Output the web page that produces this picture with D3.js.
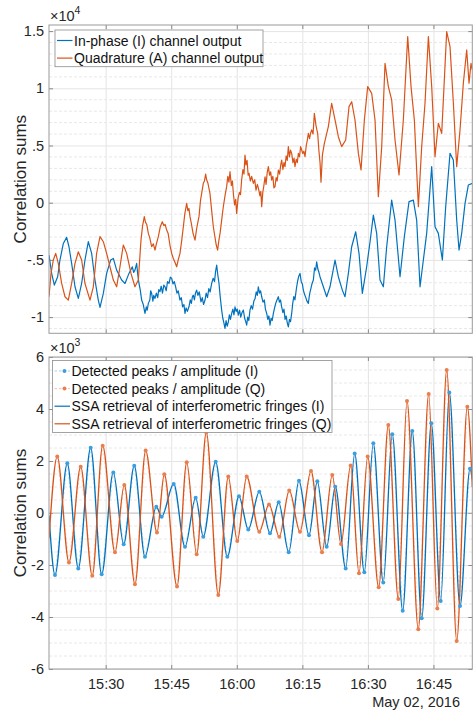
<!DOCTYPE html>
<html>
<head>
<meta charset="utf-8">
<script src="https://cdn.jsdelivr.net/npm/d3@7"></script>
<style>
  body { margin: 0; background: #fff; }
  svg { display: block; font-family: Arial, "Liberation Sans", sans-serif; }
</style>
</head>
<body>
<div id="chart"></div>
<script>
// times are minutes after 15:00, May 02 2016

// top panel: raw correlation sums
const tIn = [17.03,17.64,18.25,19.01,19.54,20.31,21.07,21.60,22.21,22.98,
  23.74,24.50,25.26,26.03,26.79,27.55,28.31,28.70,29.46,30.22,
  31.14,31.75,32.51,33.65,34.42,35.33,
  36.10,36.40,36.70,37.09,37.35,37.62,37.90,38.23,38.60,38.99,
  39.30,39.50,39.76,40.10,40.30,40.52,40.80,41.00,41.28,41.60,
  41.90,42.15,42.43,42.70,43.00,43.30,43.57,43.85,44.15,44.49,
  44.80,45.10,45.40,45.70,46.01,46.30,46.60,47.00,47.30,47.60,
  47.90,48.15,48.40,48.70,49.06,49.35,49.60,49.85,50.05,50.30,
  50.55,50.82,51.10,51.40,51.81,52.10,52.40,52.73,53.00,53.30,
  53.60,53.90,54.25,54.60,54.90,55.15,55.40,55.65,55.93,56.20,
  56.54,56.80,57.05,57.30,57.55,57.80,58.07,58.30,58.55,58.83,
  59.10,59.35,59.59,59.85,60.10,60.35,60.65,60.90,61.20,61.50,
  61.80,62.05,62.26,62.50,62.75,63.02,63.30,63.60,63.90,64.17,
  64.45,64.70,64.93,65.20,65.45,65.70,66.00,66.30,66.55,66.84,
  67.10,67.35,67.60,67.85,68.10,68.37,68.65,68.90,69.20,69.51,
  69.75,70.00,70.27,70.55,70.80,71.05,71.30,71.55,71.80,72.05,
  72.30,72.56,72.80,73.05,73.30,73.70,73.95,74.20,74.47,74.75,
  75.00,75.23,75.50,75.80,76.05,76.37,76.65,76.90,77.20,77.52,
  77.80,78.05,78.28,78.55,78.80,79.04,
  80.57,81.33,82.48,83.24,84.15,84.76,85.53,86.29,87.21,87.97,
  88.73,89.72,90.49,91.25,92.01,92.77,93.54,94.30,95.44,96.21,
  97.35,98.34,99.41,100.40,101.16,101.93,102.69,103.45,104.60,105.36,
  106.12,107.04,107.80,108.79,109.55,110.32,110.85,111.46,112.23,112.99,
  113.89];
const inPhase = [-4580,-6180,-7200,-6470,-5010,-3560,-3030,-3850,-5310,-7350,
  -8370,-7060,-5010,-3410,-4430,-6760,-8510,-9150,-7930,-6180,
  -5010,-4870,-5890,-6760,-7060,-6180,
  -5600,-6100,-5890,-5310,-6300,-7060,-7600,-8510,-8900,-9680,
  -9100,-9400,-8800,-8500,-7700,-7930,-8600,-8100,-8370,-7900,
  -8300,-7600,-7780,-7300,-7900,-7200,-7350,-7700,-6900,-7060,
  -6500,-6620,-7100,-6900,-7350,-7900,-7700,-8510,-8300,-9100,
  -8900,-9680,-9200,-9500,-9100,-8500,-8800,-8200,-8080,-8500,
  -7900,-7640,-8100,-7800,-8660,-8300,-8900,-8510,-7900,-8300,
  -7500,-7800,-7060,-6600,-6900,-6000,-5450,-6300,-7060,-8200,
  -9390,-10100,-10500,-10990,-10300,-10800,-10410,-9800,-10200,-9680,
  -9300,-9800,-9100,-9500,-9300,-9830,-9400,-10000,-9600,-9390,
  -10100,-10400,-10700,-10000,-10300,-9390,-9000,-9300,-8600,-8400,
  -7800,-8100,-7350,-7900,-7700,-8220,-8700,-8500,-9300,-9680,
  -10200,-9900,-10700,-10100,-10300,-9680,-9200,-8800,-8500,-8220,
  -8700,-8500,-9100,-9600,-9300,-10200,-9900,-10500,-10850,-10200,
  -10400,-9680,-8800,-8200,-8500,-7350,-6800,-6400,-6180,-6900,
  -7100,-7640,-8000,-8300,-8600,-8800,-8000,-7600,-7100,-6760,
  -5700,-5900,-5160,-5800,-6100,-6470,
  -8220,-7350,-5010,-6470,-7640,-8220,-6180,-3850,-2540,-4430,
  -7930,-5600,-3410,-1080,-2680,-6760,-7350,-3850,230,-1520,
  -6470,-2970,90,230,-1520,-7350,-5010,-2680,3150,-2100,
  -2680,-5010,-350,4310,3730,-1520,-4140,-2680,-60,1550,
  1690];

const tQuad = [17.03,17.49,18.02,18.56,19.16,19.93,20.69,21.45,22.21,22.98,
  23.74,24.50,25.26,26.41,27.17,27.93,28.70,29.46,30.22,30.98,
  31.75,32.51,33.27,34.03,34.80,35.79,36.70,37.47,
  38.08,38.45,38.84,39.10,39.40,39.76,40.10,40.52,40.90,41.28,
  41.60,42.05,42.50,42.96,43.30,43.60,43.95,44.30,44.70,45.10,
  45.50,45.85,46.24,46.60,47.00,47.40,47.77,48.10,48.53,48.80,
  49.05,49.29,49.60,50.00,50.44,50.80,51.10,51.35,51.70,52.00,
  52.34,52.60,52.87,53.10,53.40,53.86,54.20,54.63,55.00,55.30,
  55.62,55.90,56.20,56.54,56.90,57.30,
  57.68,57.95,58.20,58.45,58.75,59.00,59.21,59.50,59.75,59.97,
  60.30,60.60,60.85,61.11,61.40,61.65,61.88,62.10,62.35,62.60,
  62.80,63.10,63.40,63.79,64.10,64.40,64.70,64.93,65.30,65.50,
  65.70,65.95,66.20,66.46,66.70,66.95,67.22,67.50,67.75,67.98,
  68.25,68.50,68.75,69.00,69.25,69.51,69.80,70.05,70.27,70.55,
  70.80,71.03,71.30,71.55,71.80,72.05,72.30,72.56,72.85,73.10,
  73.32,73.60,73.85,74.09,74.35,74.60,74.85,75.10,75.35,75.61,
  75.90,76.15,76.37,76.65,76.90,77.14,77.45,77.75,78.10,78.30,
  78.51,78.80,79.05,79.27,79.60,80.04,
  80.95,81.71,82.48,83.24,84.00,84.92,85.68,86.29,87.05,87.82,
  88.43,89.19,89.95,90.87,91.63,92.39,93.16,93.92,94.68,95.44,
  96.21,97.12,98.11,99.11,99.87,100.63,101.55,102.31,103.07,103.84,
  104.60,105.36,106.12,106.89,108.03,108.79,109.56,110.32,111.08,111.84,
  112.61,113.14,113.60,113.89];
const quadrature = [-8220,-6180,-5010,-4430,-5310,-7060,-8220,-8510,-7060,-5310,
  -4290,-5010,-7060,-8510,-7350,-4430,-2970,-3410,-4430,-5600,
  -6760,-7350,-5600,-3700,-4430,-6180,-7350,-6760,
  -3270,-2000,-1220,-1700,-1900,-2680,-3100,-3850,-3600,-4140,
  -3600,-2970,-2100,-1660,-2000,-1900,-2390,-2700,-3700,-4430,
  -4900,-5200,-5600,-5000,-4430,-3300,-2100,-1000,-60,-700,
  -500,-1220,-1800,-2700,-3270,-2300,-1700,-1220,200,900,
  1690,1900,2510,2000,1700,820,-500,-2100,-3000,-3700,
  -4140,-3300,-2600,-1520,-400,600,
  1400,2300,1800,2710,1500,1900,820,-200,300,-930,
  400,900,700,1980,2900,2500,4170,3300,3700,2400,
  2570,1900,2300,1690,2000,1100,1600,1300,600,1000,
  -350,900,1500,2270,1600,2600,3150,2400,2700,1980,
  2300,1300,1400,2200,1900,2860,2500,3300,3730,2900,
  3500,3150,4100,3700,4900,4000,4600,4310,3500,3900,
  3150,3800,3500,4310,4000,4900,4610,4300,4500,4020,
  5000,5500,6060,5600,6100,6360,6000,7810,6800,6400,
  6060,4500,3500,1800,4200,5190,
  6650,8690,7230,5770,4900,5480,8400,8830,7230,4310,
  2860,7230,10150,9560,7230,520,4900,12190,10150,8980,
  5480,2420,7230,14520,10150,7230,-350,4900,8690,14520,
  10150,4020,6940,6060,14960,13640,8690,3150,6360,10440,
  13350,10440,12190,11600];

// bottom panel: detected peaks (I and Q), SSA fringes run through them
const tPeakI = [18.40,21.21,23.73,26.57,29.08,31.74,34.12,36.54,38.99,41.58,
  42.81,45.56,48.15,50.59,52.33,55.17,57.83,60.50,62.63,65.15,
  67.60,69.59,71.88,74.23,76.52,78.42,80.57,82.54,84.92,86.98,
  89.18,91.24,93.52,95.58,97.96,100.16,102.31,104.51,106.66,108.63,
  111.08,113.36];
const peakI = [-2380,1910,-2130,2510,-2360,1560,-1200,1820,-1680,240,
  -140,1120,-1300,590,-910,1970,-1680,640,-630,820,
  -780,410,-1510,1240,-860,1220,-1300,1010,-2130,2290,
  -2280,2680,-2670,3030,-3760,3150,-4050,3450,-3380,4630,
  -3580,1700];
const tPeakQ = [18.92,21.60,24.28,26.93,29.31,32.13,34.26,36.70,39.15,41.74,
  43.41,46.32,48.54,50.82,53.02,55.77,58.05,60.11,62.27,65.15,
  67.37,69.73,72.01,74.46,76.98,79.50,81.85,83.84,86.06,87.96,
  89.95,92.47,94.67,96.96,98.95,101.53,103.91,105.88,108.03,110.32,
  112.75];
const peakQ = [2170,-1900,1780,-2410,2590,-1510,1080,-2740,2400,-750,
  1490,-2830,1950,-1590,3100,-3150,1400,-1080,1400,-720,
  330,-910,870,-720,1620,-1510,1460,-1190,1830,-2320,
  2170,-2860,3380,-3310,4310,-4470,4580,-3670,5500,-4920,
  4090];
// SSA values at the left and right plot edges
const ssaEdgeI = [-100, 1300];
const ssaEdgeQ = [-970, 1000];

const xSpan = [17.03, 113.89];
const xTickLabels = ['15:30', '15:45', '16:00', '16:15', '16:30', '16:45'];
const topTicks = [15000, 10000, 5000, 0, -5000, -10000];
const topTickLabels = ['1.5', '1', '.5', '0', '-.5', '-1'];
const botTicks = [6000, 4000, 2000, 0, -2000, -4000, -6000];
const botTickLabels = ['6', '4', '2', '0', '-2', '-4', '-6'];

const colorI = '#0072BD';
const colorQ = '#D95319';
const peakColorI = '#3A9FE0';
const peakColorQ = '#EA7F4E';

const width = 473, height = 712;
const left = 49, right = 472.3;
const topPanel = { y0: 25, y1: 333.3 };
const botPanel = { y0: 357, y1: 669 };

const day = new Date(2016, 4, 2, 15, 0, 0);
const toDate = m => new Date(day.getTime() + m * 60000);
const parseHM = d3.timeParse('%Y-%m-%d %H:%M');
const xTickDates = xTickLabels.map(s => parseHM('2016-05-02 ' + s));

const x = d3.scaleTime().domain(xSpan.map(toDate)).range([left, right]);
const yTop = d3.scaleLinear().domain([-11416, 15533]).range([topPanel.y1, topPanel.y0]);
const yBot = d3.scaleLinear().domain([-6000, 6000]).range([botPanel.y1, botPanel.y0]);

const svg = d3.select('#chart').append('svg')
  .attr('width', width)
  .attr('height', height);

const defs = svg.append('defs');

function drawPanel(p, y, ticks, labels, minorStep, majorStep, name, showXLabels) {
  const g = svg.append('g').attr('class', name);
  const minor = d3.range(Math.ceil(y.domain()[0] / minorStep) * minorStep, y.domain()[1], minorStep)
    .filter(v => Math.abs(v % majorStep) > 1e-6);

  g.append('rect')
    .attr('x', left).attr('y', p.y0)
    .attr('width', right - left).attr('height', p.y1 - p.y0)
    .attr('fill', '#fff');

  g.selectAll('.minorGrid').data(minor).join('line')
    .attr('class', 'minorGrid')
    .attr('x1', left).attr('x2', right)
    .attr('y1', d => y(d)).attr('y2', d => y(d))
    .attr('stroke', '#e8e8e8')
    .attr('stroke-dasharray', '3,2');

  g.append('g')
    .attr('transform', `translate(${left},0)`)
    .call(d3.axisLeft(y).tickValues(ticks).tickSize(-(right - left)).tickFormat(''))
    .call(a => a.select('.domain').remove())
    .call(a => a.selectAll('line').attr('stroke', '#e4e4e4'));

  g.append('g')
    .attr('transform', `translate(0,${p.y1})`)
    .call(d3.axisBottom(x).tickValues(xTickDates).tickSize(-(p.y1 - p.y0)).tickFormat(''))
    .call(a => a.select('.domain').remove())
    .call(a => a.selectAll('line').attr('stroke', '#e4e4e4'));

  // axes with inward ticks
  const yAxis = g.append('g')
    .attr('transform', `translate(${left},0)`)
    .call(d3.axisLeft(y).tickValues(ticks).tickSize(-4).tickSizeOuter(0).tickPadding(5)
      .tickFormat((d, i) => labels[i]));
  yAxis.selectAll('text').attr('font-size', '14.5px').attr('fill', '#262626')
    .attr('font-family', 'Arial, "Liberation Sans", sans-serif');

  g.append('g')
    .attr('transform', `translate(${right},0)`)
    .call(d3.axisRight(y).tickValues(ticks).tickSize(-4).tickSizeOuter(0).tickFormat(''));

  const xAxis = g.append('g')
    .attr('transform', `translate(0,${p.y1})`)
    .call(d3.axisBottom(x).tickValues(xTickDates).tickSize(-4).tickSizeOuter(0).tickPadding(9.5)
      .tickFormat(showXLabels ? d3.timeFormat('%H:%M') : ''));
  xAxis.selectAll('text').attr('font-size', '14.5px').attr('fill', '#262626')
    .attr('font-family', 'Arial, "Liberation Sans", sans-serif');

  g.append('g')
    .attr('transform', `translate(0,${p.y0})`)
    .call(d3.axisTop(x).tickValues(xTickDates).tickSize(-4).tickSizeOuter(0).tickFormat(''));

  g.selectAll('.domain').remove();
  g.selectAll('.tick line').filter(function () { return this.getAttribute('stroke') !== '#e4e4e4'; })
    .attr('stroke', '#8a8a8a');

  defs.append('clipPath').attr('id', 'clip-' + name)
    .append('rect')
    .attr('x', left).attr('y', p.y0)
    .attr('width', right - left).attr('height', p.y1 - p.y0);

  return g.append('g').attr('clip-path', `url(#clip-${name})`);
}

function drawFrame(p) {
  svg.append('rect')
    .attr('x', left).attr('y', p.y0)
    .attr('width', right - left).attr('height', p.y1 - p.y0)
    .attr('fill', 'none')
    .attr('stroke', '#9a9a9a')
    .attr('stroke-width', 1);
}

function exponent(p, power) {
  const t = svg.append('text')
    .attr('x', left + 1).attr('y', p.y0 - 4.5)
    .attr('font-size', '14.5px').attr('fill', '#262626');
  t.append('tspan').text('\u00d710');
  t.append('tspan').attr('font-size', '10.5px').attr('dy', -7).text(power);
}

function yLabel(p) {
  svg.append('text')
    .attr('transform', `translate(25.5,${(p.y0 + p.y1) / 2}) rotate(-90)`)
    .attr('text-anchor', 'middle')
    .attr('font-size', '17px').attr('fill', '#262626')
    .text('Correlation sums');
}

// ---- top panel
const topPlot = drawPanel(topPanel, yTop, topTicks, topTickLabels, 1000, 5000, 'top', false);

const lineTop = d3.line().x(d => x(toDate(d[0]))).y(d => yTop(d[1]));
topPlot.append('path')
  .datum(d3.zip(tIn, inPhase))
  .attr('fill', 'none').attr('stroke', colorI).attr('stroke-width', 1.2)
  .attr('stroke-linejoin', 'round')
  .attr('d', lineTop);
topPlot.append('path')
  .datum(d3.zip(tQuad, quadrature))
  .attr('fill', 'none').attr('stroke', colorQ).attr('stroke-width', 1.2)
  .attr('stroke-linejoin', 'round')
  .attr('d', lineTop);

drawFrame(topPanel);
exponent(topPanel, '4');
yLabel(topPanel);

// ---- bottom panel
const botPlot = drawPanel(botPanel, yBot, botTicks, botTickLabels, 500, 2000, 'bottom', true);

botPlot.append('line')
  .attr('x1', left).attr('x2', right)
  .attr('y1', yBot(0)).attr('y2', yBot(0))
  .attr('stroke', '#c4c4c4');

const peakLine = d3.line().x(d => x(toDate(d[0]))).y(d => yBot(d[1]));
const ssaLine = d3.line().x(d => x(toDate(d[0]))).y(d => yBot(d[1])).curve(d3.curveMonotoneX);

const peaksI = d3.zip(tPeakI, peakI);
const peaksQ = d3.zip(tPeakQ, peakQ);
const ssaI = [[xSpan[0], ssaEdgeI[0]], ...peaksI, [xSpan[1], ssaEdgeI[1]]];
const ssaQ = [[xSpan[0], ssaEdgeQ[0]], ...peaksQ, [xSpan[1], ssaEdgeQ[1]]];

[[peaksI, peakColorI], [peaksQ, peakColorQ]].forEach(([pts, c]) => {
  botPlot.append('path')
    .datum(pts)
    .attr('fill', 'none').attr('stroke', c).attr('stroke-width', 0.7)
    .attr('stroke-opacity', 0.4).attr('stroke-dasharray', '2.5,2')
    .attr('d', peakLine);
});

[[ssaI, colorI], [ssaQ, colorQ]].forEach(([pts, c]) => {
  botPlot.append('path')
    .datum(pts)
    .attr('fill', 'none').attr('stroke', c).attr('stroke-width', 1.3)
    .attr('d', ssaLine);
});

[[peaksI, peakColorI], [peaksQ, peakColorQ]].forEach(([pts, c]) => {
  botPlot.selectAll(null).data(pts).join('circle')
    .attr('cx', d => x(toDate(d[0])))
    .attr('cy', d => yBot(d[1]))
    .attr('r', 2)
    .attr('fill', c);
});

drawFrame(botPanel);
exponent(botPanel, '3');
yLabel(botPanel);

svg.append('text')
  .attr('x', 460).attr('y', 707)
  .attr('text-anchor', 'end')
  .attr('font-size', '14.5px').attr('fill', '#262626')
  .text('May 02, 2016');

// ---- legends
function legend(x0, y0, w, entries) {
  const rowH = 17.6;
  const g = svg.append('g');
  g.append('rect')
    .attr('x', x0).attr('y', y0)
    .attr('width', w).attr('height', entries.length * rowH + 1.5)
    .attr('fill', '#fff').attr('stroke', '#8c8c8c').attr('stroke-width', 0.8);
  entries.forEach((e, i) => {
    const cy = y0 + 10.5 + i * rowH;
    const row = g.append('g');
    row.append('line')
      .attr('x1', x0 + 2).attr('x2', x0 + 17.5)
      .attr('y1', cy).attr('y2', cy)
      .attr('stroke', e.color)
      .attr('stroke-width', e.dashed ? 0.8 : 1.2)
      .attr('stroke-opacity', e.dashed ? 0.6 : 1)
      .attr('stroke-dasharray', e.dashed ? '2.5,2' : null);
    if (e.dot) {
      row.append('circle').attr('cx', x0 + 12).attr('cy', cy).attr('r', 2).attr('fill', e.color);
    }
    row.append('text')
      .attr('x', x0 + 19).attr('y', cy + 5)
      .attr('font-size', '14px').attr('fill', '#111')
      .text(e.label);
  });
}

legend(55, 30, 208, [
  { label: 'In-phase (I) channel output', color: colorI },
  { label: 'Quadrature (A) channel output', color: colorQ }
]);

legend(52.5, 360.5, 279.5, [
  { label: 'Detected peaks / amplitude (I)', color: peakColorI, dashed: true, dot: true },
  { label: 'Detected peaks / amplitude (Q)', color: peakColorQ, dashed: true, dot: true },
  { label: 'SSA retrieval of interferometric fringes (I)', color: colorI },
  { label: 'SSA retrieval of interferometric fringes (Q)', color: colorQ }
]);
</script>
</body>
</html>
